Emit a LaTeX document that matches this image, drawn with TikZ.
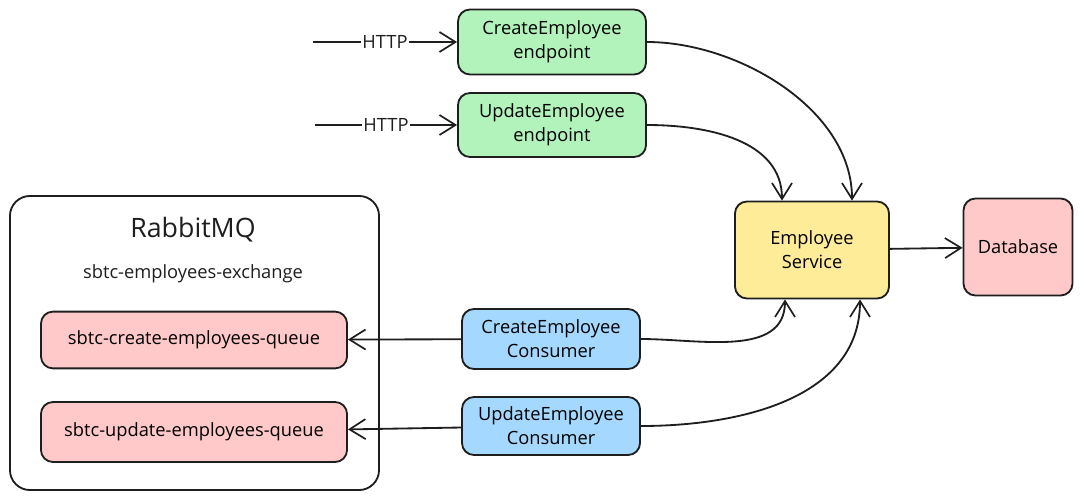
\documentclass[tikz,border=0pt]{standalone}
\usepackage{fontspec}
\setmainfont{Open Sans}
\usetikzlibrary{arrows.meta,calc}
\definecolor{lightgreen}{HTML}{B2F2BB}
\definecolor{lightblue}{HTML}{A5D8FF}
\definecolor{lightyellow}{HTML}{FFEC99}
\definecolor{lightred}{HTML}{FFC9C9}
\definecolor{ink}{HTML}{1E1E1E}

\begin{document}
\begin{tikzpicture}[x=0.025cm, y=-0.025cm,
    box/.style={draw=ink, line width=1.3pt, rounded corners=3mm, align=center,
      inner sep=0pt, font=\fontsize{13}{17}\selectfont},
    flow/.style={draw=ink, line width=1.3pt,
      -{Straight Barb[length=4mm,width=5mm,line width=1.2pt]}},
    label/.style={font=\fontsize{13}{17}\selectfont, text=ink}]
    \useasboundingbox (0,0) rectangle (1083,499);
    % RabbitMQ with its queues
    \node [box, rounded corners=5mm, minimum width=9.225cm, minimum height=7.35cm] (rabbit) at (194.5,343) {};
    \node [label, font=\fontsize{19}{23}\selectfont] (title) at (193,230) {RabbitMQ};
    \node [label] (exchange) at (193,274) {sbtc-employees-exchange};
    \node [box, fill=lightred, minimum width=7.65cm, minimum height=1.42cm] (cq) at (194,340) {sbtc-create-employees-queue};
    \node [box, fill=lightred, minimum width=7.65cm, minimum height=1.5cm] (uq) at (194,432) {sbtc-update-employees-queue};
    % endpoints and consumers
    \node [box, fill=lightgreen, minimum width=4.7cm, minimum height=1.625cm] (cee) at (552,42) {CreateEmployee\\endpoint};
    \node [box, fill=lightgreen, minimum width=4.7cm, minimum height=1.6cm] (uee) at (552,125) {UpdateEmployee\\endpoint};
    \node [box, fill=lightblue, minimum width=4.45cm, minimum height=1.5cm] (cec) at (551,339) {CreateEmployee\\Consumer};
    \node [box, fill=lightblue, minimum width=4.45cm, minimum height=1.45cm] (uec) at (551,426) {UpdateEmployee\\Consumer};
    % service and database
    \node [box, fill=lightyellow, minimum width=3.85cm, minimum height=2.425cm] (svc) at (812,250) {Employee\\Service};
    \node [box, fill=lightred, minimum width=2.725cm, minimum height=2.425cm] (db) at (1018,247) {Database};
    % connectors
    \coordinate (web1) at (313,42);
    \coordinate (web2) at (315,125);
    \draw [flow] (web1) -- node [label, fill=white, inner sep=1pt] {HTTP} (cee);
    \draw [flow] (web2) -- node [label, fill=white, inner sep=1pt] {HTTP} (uee);
    \draw [flow] (cee.east) to[out=0, in=90, looseness=0.9] ($(svc.north)+(40,0)$);
    \draw [flow] (uee.east) to[out=0, in=90] ($(svc.north)+(-30,0)$);
    \draw [flow] (cec.east) to[out=0, in=-90] ($(svc.south)+(-27,0)$);
    \draw [flow] (uec.east) to[out=0, in=-90] ($(svc.south)+(48,0)$);
    \draw [flow] (svc) -- (db);
    \draw [flow] (cec) -- (cq);
    \draw [flow] (uec) -- (uq);
  \end{tikzpicture}
\end{document}
